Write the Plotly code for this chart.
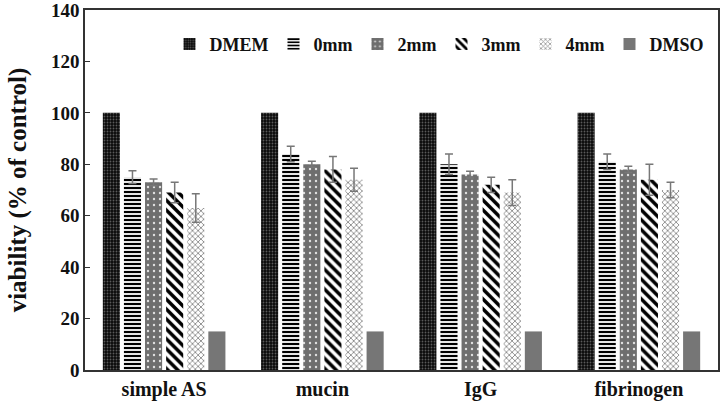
import plotly.graph_objects as go

categories = ["simple AS", "mucin", "IgG", "fibrinogen"]
series_names = ["DMEM", "0mm", "2mm", "3mm", "4mm", "DMSO"]

dmem = [100, 100, 100, 100]
mm0 = [75, 84, 80, 81]
mm2 = [73, 80, 76, 78]
mm3 = [69, 78, 72, 74]
mm4 = [63, 74, 69, 70]
dmso = [15, 15, 15, 15]

err_dmem = [0, 0, 0, 0]
err_mm0 = [2.5, 3, 4, 3]
err_mm2 = [1.3, 1.2, 1.3, 1.2]
err_mm3 = [4, 5, 3, 6]
err_mm4 = [5.5, 4.5, 5, 3]
err_dmso = [0, 0, 0, 0]

y_ticks = [0, 20, 40, 60, 80, 100, 120, 140]

values = [dmem, mm0, mm2, mm3, mm4, dmso]
errors = [err_dmem, err_mm0, err_mm2, err_mm3, err_mm4, err_dmso]

styles = [
    dict(color="#111111", pattern=dict(shape=".", fgcolor="#5a5a5a", bgcolor="#0a0a0a", fgopacity=1, size=3, solidity=0.3)),
    dict(color="#ffffff", pattern=dict(shape="-", fgcolor="#000000", bgcolor="#ffffff", fgopacity=1, size=4, solidity=0.55)),
    dict(color="#6e6e6e", pattern=dict(shape=".", fgcolor="#e0e0e0", bgcolor="#6e6e6e", fgopacity=1, size=6, solidity=0.12)),
    dict(color="#ffffff", pattern=dict(shape="\\", fgcolor="#000000", bgcolor="#ffffff", fgopacity=1, size=7, solidity=0.5)),
    dict(color="#ffffff", pattern=dict(shape="x", fgcolor="#8a8a8a", bgcolor="#ffffff", fgopacity=1, size=4, solidity=0.4)),
    dict(color="#767676"),
]

FONT = "Liberation Serif"

fig = go.Figure()
for name, vals, errs, st in zip(series_names, values, errors, styles):
    show_err = any(e > 0 for e in errs)
    fig.add_trace(go.Bar(
        name=name,
        x=categories,
        y=vals,
        marker=dict(line=dict(width=0), **st),
        error_y=dict(type="data", array=errs, visible=show_err,
                     color="#777777", thickness=1.5, width=4),
    ))

fig.update_layout(
    width=720, height=413,
    margin=dict(l=85, r=2, t=10, b=43, autoexpand=False),
    paper_bgcolor="white", plot_bgcolor="white",
    barmode="group", bargap=0.2, bargroupgap=0.19,
    font=dict(family=FONT, color="#111111", size=18),
    legend=dict(orientation="h", x=0.985, xanchor="right", y=0.905, yanchor="middle",
                font=dict(family=FONT, size=18, color="#111111", weight="bold"),
                bgcolor="rgba(0,0,0,0)", itemwidth=30, tracegroupgap=0),
    showlegend=True,
)
fig.update_xaxes(
    showline=True, linecolor="#333333", linewidth=1.5, mirror=True,
    ticks="", tickfont=dict(family=FONT, size=20, weight="bold", color="#111111"),
    showgrid=False, automargin=False,
)
fig.update_yaxes(
    range=[0, 140], tickvals=y_ticks, showline=True, linecolor="#333333", linewidth=1.5, mirror=True,
    ticks="inside", ticklen=5, tickcolor="#333333", showgrid=False, zeroline=False,
    tickfont=dict(family=FONT, size=19, weight="bold", color="#111111"),
    automargin=False, ticklabeloverflow="allow",
    title=dict(text="viability (% of control)", font=dict(family=FONT, size=25, weight="bold", color="#111111"), standoff=17),
)

fig.write_html("out.html", config={"displayModeBar": False},
               post_script="document.body.style.margin='0';")
